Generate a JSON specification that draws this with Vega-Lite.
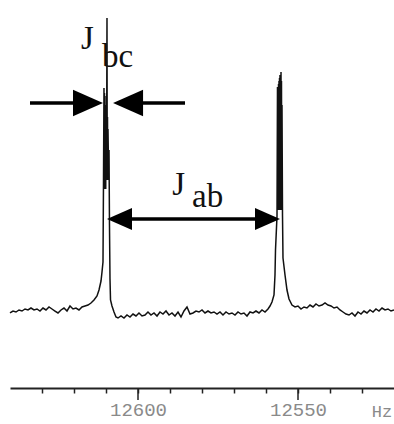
{
  "$schema": "https://vega.github.io/schema/vega-lite/v6.json",
  "width": 384,
  "height": 388,
  "autosize": {"type": "none"},
  "padding": {"left": 10, "top": 0, "right": 0, "bottom": 36},
  "background": "white",
  "config": {"view": {"stroke": null}, "axis": {"labelOverlap": false}},
  "datasets": {
    "spec": [
      {"hz": 12640.0, "v": 0.67}, {"hz": 12639.06, "v": 1.33}, {"hz": 12638.13, "v": 1.0}, {"hz": 12637.19, "v": 1.67},
      {"hz": 12636.25, "v": 1.33}, {"hz": 12635.31, "v": 2.0}, {"hz": 12634.38, "v": 1.67}, {"hz": 12633.44, "v": 2.33},
      {"hz": 12632.5, "v": 1.67}, {"hz": 12631.56, "v": 2.0}, {"hz": 12630.63, "v": 1.33}, {"hz": 12629.69, "v": 2.33},
      {"hz": 12628.75, "v": 1.67}, {"hz": 12627.81, "v": 2.67}, {"hz": 12626.88, "v": 2.0}, {"hz": 12625.94, "v": 1.33},
      {"hz": 12625.0, "v": 0.67}, {"hz": 12624.06, "v": 1.67}, {"hz": 12623.13, "v": 2.33}, {"hz": 12622.19, "v": 1.33},
      {"hz": 12621.25, "v": 3.0}, {"hz": 12620.31, "v": 2.0}, {"hz": 12619.38, "v": 2.33}, {"hz": 12618.44, "v": 1.67},
      {"hz": 12617.5, "v": 2.67}, {"hz": 12616.56, "v": 3.0}, {"hz": 12615.63, "v": 3.33}, {"hz": 12614.69, "v": 4.0},
      {"hz": 12613.75, "v": 5.0}, {"hz": 12612.81, "v": 6.33}, {"hz": 12612.19, "v": 8.33}, {"hz": 12611.56, "v": 11.33},
      {"hz": 12611.25, "v": 14.33}, {"hz": 12610.94, "v": 17.67}, {"hz": 12610.78, "v": 45.0}, {"hz": 12610.63, "v": 75.67},
      {"hz": 12610.55, "v": 42.0}, {"hz": 12610.47, "v": 74.0}, {"hz": 12610.39, "v": 42.0}, {"hz": 12610.31, "v": 73.0},
      {"hz": 12610.23, "v": 42.0}, {"hz": 12610.16, "v": 70.0}, {"hz": 12610.08, "v": 42.0}, {"hz": 12610.0, "v": 68.0},
      {"hz": 12609.84, "v": 45.0}, {"hz": 12609.69, "v": 99.0}, {"hz": 12609.61, "v": 45.0}, {"hz": 12609.53, "v": 66.0},
      {"hz": 12609.45, "v": 45.0}, {"hz": 12609.38, "v": 62.0}, {"hz": 12609.22, "v": 50.0}, {"hz": 12609.06, "v": 55.0},
      {"hz": 12608.91, "v": 30.0}, {"hz": 12608.75, "v": 12.0}, {"hz": 12608.59, "v": 5.0},
      {"hz": 12608.13, "v": 3.0}, {"hz": 12607.5, "v": 1.0}, {"hz": 12606.88, "v": -0.67}, {"hz": 12606.25, "v": -1.0},
      {"hz": 12605.31, "v": -0.33}, {"hz": 12604.38, "v": -1.0}, {"hz": 12603.44, "v": 0.0}, {"hz": 12602.5, "v": -0.67},
      {"hz": 12601.56, "v": 0.33}, {"hz": 12600.63, "v": -0.33}, {"hz": 12599.69, "v": 0.67}, {"hz": 12598.75, "v": -0.33},
      {"hz": 12597.81, "v": 0.0}, {"hz": 12596.88, "v": 1.0}, {"hz": 12595.94, "v": 0.0}, {"hz": 12595.0, "v": 0.67},
      {"hz": 12594.06, "v": -0.33}, {"hz": 12593.13, "v": 1.0}, {"hz": 12592.19, "v": 0.33}, {"hz": 12591.25, "v": 1.33},
      {"hz": 12590.31, "v": 0.0}, {"hz": 12589.38, "v": 0.67}, {"hz": 12588.44, "v": -0.33}, {"hz": 12587.5, "v": 1.0},
      {"hz": 12586.56, "v": -0.67}, {"hz": 12585.63, "v": 1.33}, {"hz": 12584.69, "v": 2.67}, {"hz": 12583.75, "v": 0.33},
      {"hz": 12582.81, "v": 0.67}, {"hz": 12581.88, "v": 1.33}, {"hz": 12580.94, "v": 1.0}, {"hz": 12580.0, "v": 1.67},
      {"hz": 12579.06, "v": 0.67}, {"hz": 12578.13, "v": 1.33}, {"hz": 12577.19, "v": 0.67}, {"hz": 12576.25, "v": 1.0},
      {"hz": 12575.31, "v": 0.33}, {"hz": 12574.38, "v": 1.0}, {"hz": 12573.44, "v": 0.0}, {"hz": 12572.5, "v": 1.0},
      {"hz": 12571.56, "v": 0.33}, {"hz": 12570.63, "v": 0.67}, {"hz": 12569.69, "v": 0.0}, {"hz": 12568.75, "v": 1.0},
      {"hz": 12567.81, "v": 0.33}, {"hz": 12566.88, "v": 0.67}, {"hz": 12565.94, "v": -0.33}, {"hz": 12565.0, "v": 1.0},
      {"hz": 12564.06, "v": 0.67}, {"hz": 12563.13, "v": 1.33}, {"hz": 12562.19, "v": 0.67}, {"hz": 12561.25, "v": 1.67},
      {"hz": 12560.31, "v": 1.0}, {"hz": 12559.38, "v": 2.0}, {"hz": 12558.75, "v": 3.0}, {"hz": 12558.13, "v": 4.33},
      {"hz": 12557.5, "v": 6.67}, {"hz": 12557.19, "v": 13.33}, {"hz": 12557.03, "v": 21.67}, {"hz": 12556.56, "v": 33.0},
      {"hz": 12556.41, "v": 76.0}, {"hz": 12556.33, "v": 35.0}, {"hz": 12556.25, "v": 76.0}, {"hz": 12556.17, "v": 35.0},
      {"hz": 12556.09, "v": 77.0}, {"hz": 12556.02, "v": 35.0}, {"hz": 12555.94, "v": 78.0}, {"hz": 12555.86, "v": 35.0},
      {"hz": 12555.78, "v": 79.0}, {"hz": 12555.7, "v": 35.0}, {"hz": 12555.63, "v": 80.0}, {"hz": 12555.55, "v": 35.0},
      {"hz": 12555.47, "v": 80.0}, {"hz": 12555.39, "v": 35.0}, {"hz": 12555.31, "v": 81.0}, {"hz": 12555.23, "v": 35.0},
      {"hz": 12555.16, "v": 78.0}, {"hz": 12555.08, "v": 35.0}, {"hz": 12555.0, "v": 70.0}, {"hz": 12554.84, "v": 33.0},
      {"hz": 12554.69, "v": 19.0}, {"hz": 12554.06, "v": 13.33}, {"hz": 12553.44, "v": 8.33}, {"hz": 12552.81, "v": 5.33},
      {"hz": 12551.88, "v": 3.33}, {"hz": 12550.94, "v": 2.67}, {"hz": 12550.0, "v": 3.0}, {"hz": 12549.06, "v": 2.0},
      {"hz": 12548.13, "v": 2.67}, {"hz": 12547.19, "v": 2.33}, {"hz": 12546.25, "v": 3.33}, {"hz": 12545.31, "v": 2.67},
      {"hz": 12544.38, "v": 3.67}, {"hz": 12543.44, "v": 3.0}, {"hz": 12542.5, "v": 3.33}, {"hz": 12541.56, "v": 4.0},
      {"hz": 12540.63, "v": 3.33}, {"hz": 12539.69, "v": 3.0}, {"hz": 12538.75, "v": 2.33}, {"hz": 12537.81, "v": 2.67},
      {"hz": 12536.88, "v": 1.67}, {"hz": 12535.94, "v": 1.0}, {"hz": 12535.0, "v": 0.33}, {"hz": 12534.06, "v": 0.0},
      {"hz": 12533.13, "v": 0.67}, {"hz": 12532.19, "v": -0.33}, {"hz": 12531.25, "v": 1.0}, {"hz": 12530.31, "v": 0.33},
      {"hz": 12529.38, "v": 1.33}, {"hz": 12528.44, "v": 0.67}, {"hz": 12527.5, "v": 1.67}, {"hz": 12526.56, "v": 1.0},
      {"hz": 12525.63, "v": 2.0}, {"hz": 12524.69, "v": 1.33}, {"hz": 12523.75, "v": 2.33}, {"hz": 12522.81, "v": 1.67},
      {"hz": 12521.88, "v": 2.0}, {"hz": 12520.94, "v": 1.33}, {"hz": 12520.0, "v": 1.67}
    ],
    "shafts": [
      {"x1": 12633.75, "x2": 12614.0, "v": 70.67},
      {"x1": 12605.8, "x2": 12585.31, "v": 70.67},
      {"x1": 12607.2, "x2": 12558.1, "v": 32.0}
    ],
    "heads": [
      {"hz": 12610.94, "v": 70.67, "dir": 0, "grp": "bc"},
      {"hz": 12607.8, "v": 70.67, "dir": 180, "grp": "bc"},
      {"hz": 12609.69, "v": 32.0, "dir": 180, "grp": "ab"},
      {"hz": 12555.63, "v": 32.0, "dir": 0, "grp": "ab"}
    ],
    "majors": [
      {"hz": 12600, "v1": -24.333, "v2": -28.333},
      {"hz": 12550, "v1": -24.333, "v2": -28.333}
    ],
    "labels": [
      {"hz": 12617.8, "v": 88.67, "t": "J"},
      {"hz": 12611.25, "v": 82.67, "t": "bc"},
      {"hz": 12589.3, "v": 40.0, "t": "J"},
      {"hz": 12583.13, "v": 36.0, "t": "ab"}
    ],
    "unit": [
      {"hz": 12523.75, "v": -32.33, "t": "Hz"}
    ]
  },
  "layer": [
    {
      "data": {"name": "spec"},
      "mark": {"type": "line", "color": "#111", "strokeWidth": 1.5, "interpolate": "linear"},
      "encoding": {
        "x": {
          "field": "hz", "type": "quantitative",
          "scale": {"domain": [12520, 12640], "reverse": true, "nice": false, "zero": false},
          "axis": {
            "title": null,
            "values": [12630, 12620, 12610, 12600, 12590, 12580, 12570, 12560, 12550, 12540, 12530],
            "tickCount": 30,
            "format": "d",
            "labelExpr": "datum.value % 50 === 0 ? datum.label : ''",
            "labelOverlap": false,
            "tickSize": 5,
            "tickColor": "#222",
            "tickWidth": 1.5,
            "domainColor": "#222",
            "domainWidth": 2,
            "grid": false,
            "labelFont": "Liberation Mono",
            "labelFontSize": 19,
            "labelColor": "#8a8a8a",
            "labelPadding": 7,
            "labelFlush": false
          }
        },
        "y": {
          "field": "v", "type": "quantitative",
          "scale": {"domain": [-24.333, 105], "nice": false, "zero": false},
          "axis": null
        }
      }
    },
    {
      "data": {"name": "majors"},
      "mark": {"type": "rule", "color": "#222", "strokeWidth": 1.5},
      "encoding": {
        "x": {"field": "hz", "type": "quantitative"},
        "y": {"field": "v1", "type": "quantitative"},
        "y2": {"field": "v2"}
      }
    },
    {
      "data": {"name": "shafts"},
      "mark": {"type": "rule", "color": "#000", "strokeWidth": 3.5},
      "encoding": {
        "x": {"field": "x1", "type": "quantitative"},
        "x2": {"field": "x2"},
        "y": {"field": "v", "type": "quantitative"}
      }
    },
    {
      "data": {"name": "heads"},
      "mark": {"type": "point", "filled": true, "color": "#000", "opacity": 1, "shape": "M0,0L-1,-0.44L-1,0.44Z"},
      "encoding": {
        "x": {"field": "hz", "type": "quantitative"},
        "y": {"field": "v", "type": "quantitative"},
        "angle": {"field": "dir", "type": "quantitative", "scale": null},
        "size": {"field": "grp", "type": "ordinal", "scale": {"domain": ["bc", "ab"], "range": [3600, 2500]}, "legend": null}
      }
    },
    {
      "data": {"name": "labels"},
      "mark": {"type": "text", "font": "Liberation Serif", "fontSize": 33, "align": "left", "baseline": "alphabetic", "color": "#111"},
      "encoding": {
        "x": {"field": "hz", "type": "quantitative"},
        "y": {"field": "v", "type": "quantitative"},
        "text": {"field": "t"}
      }
    },
    {
      "data": {"name": "unit"},
      "mark": {"type": "text", "font": "Liberation Mono", "fontSize": 17, "align": "center", "baseline": "middle", "color": "#8a8a8a"},
      "encoding": {
        "x": {"field": "hz", "type": "quantitative"},
        "y": {"field": "v", "type": "quantitative"},
        "text": {"field": "t"}
      }
    }
  ]
}
